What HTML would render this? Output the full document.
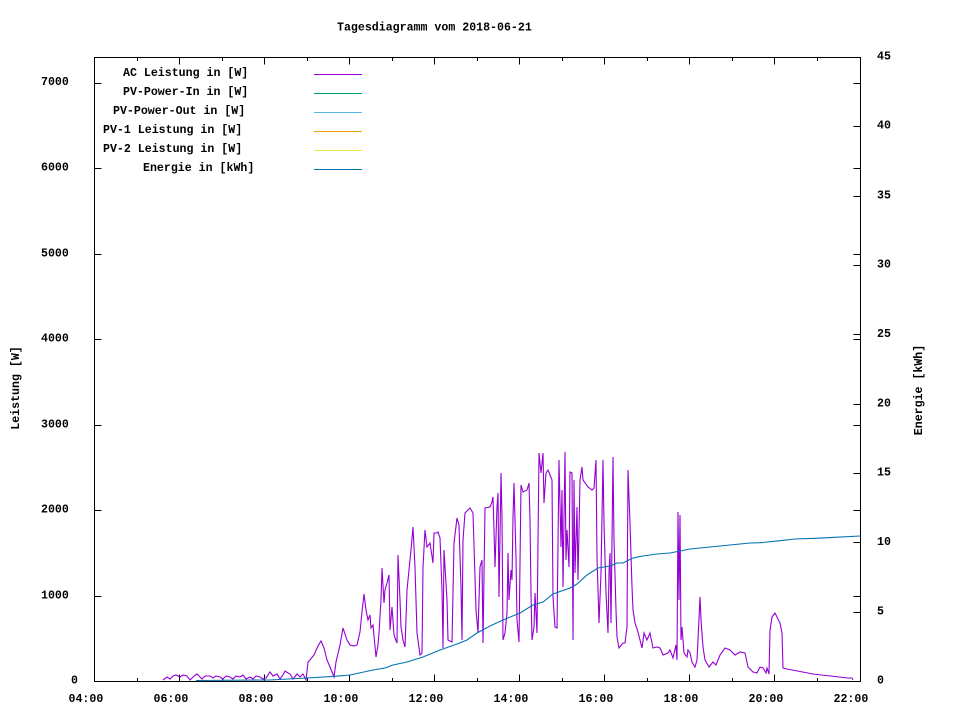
<!DOCTYPE html>
<html>
<head>
<meta charset="utf-8">
<style>
html,body{margin:0;padding:0;background:#fff;}
svg{display:block;}
text{font-family:"Liberation Mono","DejaVu Sans Mono",monospace;font-size:11.6px;font-weight:bold;fill:#000;}
</style>
</head>
<body>
<svg width="960" height="720" viewBox="0 0 960 720" xmlns="http://www.w3.org/2000/svg">
<rect x="0" y="0" width="960" height="720" fill="#fff"/>

<!-- title -->
<text x="337" y="30.5">Tagesdiagramm vom 2018-06-21</text>

<!-- axis labels -->
<text transform="translate(19,388) rotate(-90)" text-anchor="middle">Leistung [W]</text>
<text transform="translate(922,390) rotate(-90)" text-anchor="middle">Energie [kWh]</text>

<g stroke="#000" stroke-width="1" shape-rendering="crispEdges" fill="none">
  <!-- border -->
  <rect x="94.5" y="57.5" width="766" height="624"/>
  <!-- bottom x ticks major -->
  <path d="M179.5 681.5v-7M264.5 681.5v-7M349.5 681.5v-7M434.5 681.5v-7M519.5 681.5v-7M604.5 681.5v-7M689.5 681.5v-7M774.5 681.5v-7"/>
  <!-- bottom minor -->
  <path d="M137.5 681.5v-3.5M222.5 681.5v-3.5M307.5 681.5v-3.5M392.5 681.5v-3.5M477.5 681.5v-3.5M562.5 681.5v-3.5M647.5 681.5v-3.5M732.5 681.5v-3.5M817.5 681.5v-3.5"/>
  <!-- top major -->
  <path d="M179.5 57.5v7M264.5 57.5v7M349.5 57.5v7M434.5 57.5v7M519.5 57.5v7M604.5 57.5v7M689.5 57.5v7M774.5 57.5v7"/>
  <!-- top minor -->
  <path d="M137.5 57.5v3.5M222.5 57.5v3.5M307.5 57.5v3.5M392.5 57.5v3.5M477.5 57.5v3.5M562.5 57.5v3.5M647.5 57.5v3.5M732.5 57.5v3.5M817.5 57.5v3.5"/>
  <!-- left y ticks -->
  <path d="M94.5 596.5h7M94.5 510.5h7M94.5 425.5h7M94.5 339.5h7M94.5 254.5h7M94.5 168.5h7M94.5 83.5h7"/>
  <!-- mirrored on right -->
  <path d="M860.5 596.5h-7M860.5 510.5h-7M860.5 425.5h-7M860.5 339.5h-7M860.5 254.5h-7M860.5 168.5h-7M860.5 83.5h-7"/>
  <!-- right y2 ticks -->
  <path d="M860.5 612.5h-7M860.5 542.5h-7M860.5 473.5h-7M860.5 404.5h-7M860.5 334.5h-7M860.5 265.5h-7M860.5 196.5h-7M860.5 126.5h-7"/>
</g>

<!-- left tick labels -->
<text x="71" y="683.5">0</text>
<text x="41" y="598.5">1000</text>
<text x="41" y="512.5">2000</text>
<text x="41" y="427.5">3000</text>
<text x="41" y="341.5">4000</text>
<text x="41" y="256.5">5000</text>
<text x="41" y="170.5">6000</text>
<text x="41" y="85">7000</text>

<!-- right tick labels -->
<text x="877" y="683.5">0</text>
<text x="877" y="614.5">5</text>
<text x="877" y="545">10</text>
<text x="877" y="475.5">15</text>
<text x="877" y="406.5">20</text>
<text x="877" y="337">25</text>
<text x="877" y="267.5">30</text>
<text x="877" y="198.5">35</text>
<text x="877" y="128.5">40</text>
<text x="877" y="59.5">45</text>

<!-- bottom labels -->
<text x="68.5" y="702">04:00</text>
<text x="153.5" y="702">06:00</text>
<text x="238.5" y="702">08:00</text>
<text x="323.5" y="702">10:00</text>
<text x="408.5" y="702">12:00</text>
<text x="493.5" y="702">14:00</text>
<text x="578.5" y="702">16:00</text>
<text x="663.5" y="702">18:00</text>
<text x="748.5" y="702">20:00</text>
<text x="833.5" y="702">22:00</text>

<!-- legend -->
<text x="123" y="76">AC Leistung in [W]</text>
<text x="123" y="95">PV-Power-In in [W]</text>
<text x="113" y="114">PV-Power-Out in [W]</text>
<text x="103" y="133">PV-1 Leistung in [W]</text>
<text x="103" y="152">PV-2 Leistung in [W]</text>
<text x="143" y="171">Energie in [kWh]</text>
<g stroke-width="1" shape-rendering="crispEdges">
  <path d="M314 74.5h48" stroke="#9400d3"/>
  <path d="M314 93.5h48" stroke="#009e73"/>
  <path d="M314 112.5h48" stroke="#56b4e9"/>
  <path d="M314 131.5h48" stroke="#e69f00"/>
  <path d="M314 150.5h48" stroke="#f0e442"/>
  <path d="M314 169.5h48" stroke="#0072b2"/>
</g>

<!-- AC Leistung -->
<polyline fill="none" stroke="#9400d3" stroke-width="1.1" stroke-linejoin="miter" points="
163,680 167,677 170,679 173,676 176,675 180,677 183,675 187,676 190,680 194,676 197,674 200,677 202,679 205,676 210,676 213,678 216,676 220,677 223,679 226,676 230,677 233,679 236,676 240,677 243,675 246,679 250,677 253,679 256,676 260,677 263,679 266,678 270,672 273,676 277,674 280,679 283,675 285,671 288,673 290,674 293,679 297,674 300,677 303,674 306,680 308,662
310,660 314,655 318,646 321,641 324,648 327,660 330,667 334,677 336,662 340,645 343,628 347,640 350,645 354,646 357,645 360,632 362,612 364,594 366,610 368,620 370,615 371,628 373,625 376,657 378,645 379,633 381,600 382,568 384,603 385,590 387,583 389,575 390,630 392,607 394,635 397,643 398,555 400,600 401,627 403,640 405,647 407,590 409,570 411,550 413,527 415,567 417,633 420,655 422,653 423,567 425,530 427,547 430,543 433,563 434,533 437,533 438,532 440,538 442,590 443,648 444,550 447,600 448,640 452,642 454,543 457,518 459,525 461,587 462,640 463,540 465,513 470,508 473,513 476,610 478,633 480,567 482,560 483,643 485,508 490,507
492,502 493,497 494,530 495,567 497,507 498,493 499,597 501,473 502,517 503,640 505,633 507,613 508,553 509,600 511,570 512,580 513,517 514,483 516,557 517,620 519,642 521,485 523,492 527,490 529,483 530,520 531,593 532,640 534,627 535,593 537,633 538,543 539,453 541,473 543,453 544,503 546,473 548,470 552,480 553,597 555,627 557,628 559,460 561,547 562,490 563,587 565,452 566,560 567,530 569,567 570,472 572,473 573,640 574,480 575,573 577,507 578,580 580,480 582,467 583,480 588,487 592,490 594,488 596,460 597,557 599,623 601,573 603,460 604,523 606,593 608,633 609,573 610,553 611,623 613,457 614,540 616,610 617,637 619,648 623,643 625,643 627,627 628,470 630,523 632,587 633,610 635,623 638,632 642,648 644,633 647,640 650,633 653,648 657,647 660,648 663,655 668,653 670,650
673,658 676,645 677,660 678,512 679,600 680,515 681,640 682,627 684,653 687,657 688,650 690,653 692,662 695,667 697,660 698,640 700,597 701,620 703,647 705,660 709,667 713,662 716,665 720,655 725,648 730,650 735,655 740,652 745,653 748,667 753,672 757,673 760,667 763,668 766,673 767,668 769,674 770,630 772,617 775,613 780,623 782,633 783,668 787,669 813,674 848,678 852,678 853,680"/>

<!-- Energie -->
<polyline fill="none" stroke="#0072b2" stroke-width="1.1" points="
196,680.5 270,680 307,678 335,676.3 350,675 373,670 385,668 393,665 407,662 423,657 440,650 457,644 467,640 477,633 490,626 503,620 520,613 533,605 543,602 553,594 570,588 577,584 587,575 598,568 610,566 617,563 623,563 633,558 643,556 657,554 670,553 690,549 750,543 760,542.7 780,540.7 795,539 815,538.3 835,537.3 860,536"/>
</svg>
</body>
</html>
